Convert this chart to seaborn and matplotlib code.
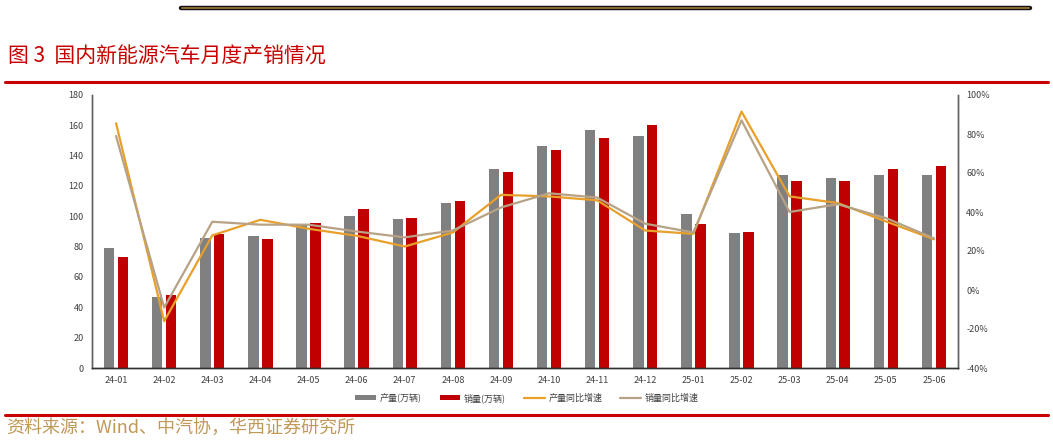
import numpy as np
import pandas as pd
import matplotlib
matplotlib.use("Agg")
import matplotlib.pyplot as plt
from matplotlib.lines import Line2D
from matplotlib.ticker import PercentFormatter
import seaborn as sns

# ---------------------------------------------------------------------------
# 数据
# ---------------------------------------------------------------------------
months = ["24-01", "24-02", "24-03", "24-04", "24-05", "24-06", "24-07", "24-08", "24-09",
          "24-10", "24-11", "24-12", "25-01", "25-02", "25-03", "25-04", "25-05", "25-06"]
production = [79, 46.5, 86, 87, 95, 100.5, 98.5, 109, 131,
              146.5, 157, 153, 101.5, 89, 127.5, 125, 127, 127]
sales = [73, 48, 88.5, 85, 95.5, 105, 99, 110, 129,
         143.5, 151.5, 160, 95, 89.5, 123.5, 123, 131, 133]
prod_yoy = [0.855, -0.16, 0.28, 0.36, 0.314, 0.278, 0.223, 0.295, 0.488,
            0.48, 0.46, 0.305, 0.288, 0.915, 0.48, 0.446, 0.352, 0.26]
sales_yoy = [0.79, -0.09, 0.35, 0.335, 0.335, 0.30, 0.27, 0.305, 0.423,
             0.496, 0.474, 0.34, 0.295, 0.87, 0.40, 0.44, 0.369, 0.265]

series_names = ["产量(万辆)", "销量(万辆)"]
yoy_names = ["产量同比增速", "销量同比增速"]

COLOR_PROD = "#808080"
COLOR_SALES = "#C00000"
COLOR_PROD_YOY = "#E8A02A"
COLOR_SALES_YOY = "#B8A286"
RED = "#C80000"
GOLD = "#C09858"
TEXT = "#404040"

sns.set_style("white")
plt.rcParams["font.family"] = ["Noto Sans CJK SC", "DejaVu Sans"]
plt.rcParams["axes.unicode_minus"] = False

df = pd.DataFrame({
    "month": months * 2,
    "value": production + sales,
    "series": [series_names[0]] * len(months) + [series_names[1]] * len(months),
})

fig = plt.figure(figsize=(10.53, 4.41), dpi=100)
ax = fig.add_axes([92 / 1053, 1 - 368 / 441, (958 - 92) / 1053, (368 - 95) / 441])

# ── 柱状图 ─────────────────────────────────────────────────────────────
sns.barplot(
    data=df, x="month", y="value", hue="series",
    palette=[COLOR_PROD, COLOR_SALES], saturation=1, width=0.58, gap=0.25,
    edgecolor="none", ax=ax,
)
bar_handles, bar_labels = ax.get_legend_handles_labels()
ax.get_legend().remove()

ax.set_ylim(0, 180)
ax.set_yticks(np.arange(0, 181, 20))
ax.set_xlim(-0.5, len(months) - 0.5)
ax.set_xlabel("")
ax.set_ylabel("")
ax.tick_params(axis="both", length=0, labelsize=6.5, labelcolor=TEXT, pad=6)

# ── 同比增速折线 ───────────────────────────────────────────────────────
ax2 = ax.twinx()
idx = np.arange(len(months))
sns.lineplot(x=idx, y=prod_yoy, color=COLOR_PROD_YOY, linewidth=1.6,
             label=yoy_names[0], ax=ax2)
sns.lineplot(x=idx, y=sales_yoy, color=COLOR_SALES_YOY, linewidth=1.6,
             label=yoy_names[1], ax=ax2)
line_handles, line_labels = ax2.get_legend_handles_labels()
ax2.get_legend().remove()
ax2.set_ylim(-0.4, 1.0)
ax2.set_yticks(np.arange(-0.4, 1.01, 0.2))
ax2.yaxis.set_major_formatter(PercentFormatter(1.0, decimals=0))
ax2.tick_params(axis="y", length=0, labelsize=6.5, labelcolor=TEXT, pad=6)
ax2.set_ylabel("")

for a in (ax, ax2):
    a.spines["top"].set_visible(False)
    a.spines["left"].set_color("#606060")
    a.spines["right"].set_color("#606060")
    a.spines["bottom"].set_color("#303030")
    for s in ("left", "right", "bottom"):
        a.spines[s].set_linewidth(1.0)

# ── 图例 ───────────────────────────────────────────────────────────────
fig.legend(
    bar_handles + line_handles, bar_labels + line_labels,
    loc="center", bbox_to_anchor=(527 / 1053, 1 - 398 / 441), ncol=4,
    frameon=False, fontsize=6.5, labelcolor=TEXT,
    handlelength=2.3, handleheight=0.4, columnspacing=2.0, handletextpad=0.4,
)

# ── 标题、装饰线、来源 ─────────────────────────────────────────────────
fig.add_artist(Line2D([181 / 1053, 1030 / 1053], [1 - 7.5 / 441] * 2,
                      color="#111111", linewidth=3.2, transform=fig.transFigure))
fig.add_artist(Line2D([182 / 1053, 1029 / 1053], [1 - 7.5 / 441] * 2,
                      color="#8B6B2E", linewidth=1.4, transform=fig.transFigure))
fig.text(8 / 1053, 1 - 57 / 441, "图 3  国内新能源汽车月度产销情况",
         fontsize=15, color=RED, va="center", ha="left")
fig.add_artist(Line2D([5 / 1053, 1048 / 1053], [1 - 82 / 441] * 2,
                      color=RED, linewidth=2.2, transform=fig.transFigure))
fig.add_artist(Line2D([5 / 1053, 1048 / 1053], [1 - 414.5 / 441] * 2,
                      color=RED, linewidth=2.2, transform=fig.transFigure))
fig.text(6 / 1053, 1 - 428 / 441, "资料来源：Wind、中汽协，华西证券研究所",
         fontsize=13, color=GOLD, va="center", ha="left")

fig.savefig("out.png", dpi=100)
plt.close(fig)
